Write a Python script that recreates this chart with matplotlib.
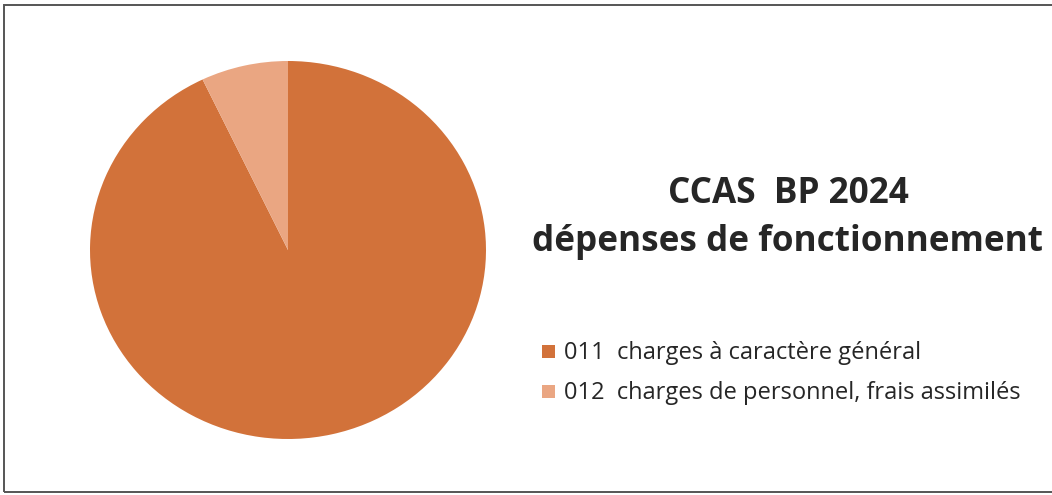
import matplotlib
matplotlib.use("Agg")
from matplotlib import pyplot as plt
from matplotlib.patches import Rectangle

# données (en %)
categories = ["011  charges à caractère général",
              "012  charges de personnel, frais assimilés"]
valeurs = [92.9, 7.1]
couleurs = ["#D2723A", "#EAA682"]
titre1 = "CCAS  BP 2024"
titre2 = "dépenses de fonctionnement"

W, H = 1052, 495
fig = plt.figure(figsize=(W / 100, H / 100), dpi=100)
fig.patch.set_facecolor("white")

# cadre du graphique (coupé à droite comme sur le scan)
fig.patches.append(Rectangle((4 / W, 1 - 492 / H), 1.2, (492 - 5) / H,
                             transform=fig.transFigure, fill=False,
                             edgecolor="#555555", linewidth=1.4))

# camembert
ax = fig.add_axes([(288 - 198) / W, 1 - 439 / H, 396 / W, 378 / H])
ax.pie(valeurs, colors=couleurs, startangle=90, counterclock=False,
       wedgeprops=dict(linewidth=0))
ax.set_aspect("auto")
ax.set_xlim(-1, 1)
ax.set_ylim(-1, 1)
ax.axis("off")

# titre
fig.text(788 / W, 1 - 203 / H, titre1, ha="center", va="baseline",
         fontsize=25.3, fontweight="bold", family="Open Sans", color="#262626")
fig.text(788 / W, 1 - 251 / H, titre2, ha="center", va="baseline",
         fontsize=25.3, fontweight="bold", family="Open Sans", color="#262626")

# légende
lignes = [359, 399]
for cat, col, yb in zip(categories, couleurs, lignes):
    fig.patches.append(Rectangle((542 / W, 1 - (yb - 1) / H), 13 / W, 13 / H,
                                 transform=fig.transFigure, facecolor=col,
                                 edgecolor="none"))
    fig.text(564 / W, 1 - yb / H, cat, ha="left", va="baseline",
             fontsize=17, family="Open Sans", color="#262626")

fig.savefig("out.png", dpi=100)
